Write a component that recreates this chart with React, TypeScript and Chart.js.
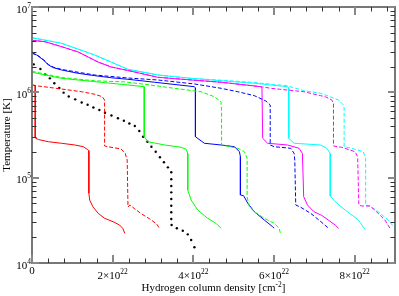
import { useEffect, useRef } from 'react';
import { Chart, registerables } from 'chart.js';

Chart.register(...registerables);

// x: hydrogen column density in units of 1e22 cm^-2 ; y: log10(Temperature [K])
const redSolidX = [0, 0.08, 0.08, 0.16, 0.41, 0.73, 1.06, 1.27, 1.37, 1.41, 1.41, 1.43, 1.51, 1.64, 1.80, 2.01, 2.17, 2.25, 2.30];
const redSolidLogT = [6.086, 6.080, 5.465, 5.447, 5.421, 5.403, 5.383, 5.363, 5.332, 5.316, 4.817, 4.738, 4.660, 4.582, 4.524, 4.484, 4.445, 4.407, 4.348];

const redDashedX = [0, 0.16, 0.73, 1.23, 1.56, 1.74, 1.80, 1.80, 1.88, 2.21, 2.31, 2.36, 2.38, 2.43, 2.55, 2.72, 2.92, 3.09, 3.17];
const redDashedLogT = [6.086, 6.074, 6.039, 6.007, 5.977, 5.949, 5.910, 5.371, 5.363, 5.336, 5.285, 5.207, 4.656, 4.680, 4.633, 4.574, 4.516, 4.457, 4.398];

const greenSolidX = [0, 0.734, 1.557, 2.377, 2.783, 2.783, 2.877, 3.288, 3.700, 3.823, 3.862, 3.862, 3.946, 4.108, 4.355, 4.562, 4.685];
const greenSolidLogT = [6.235, 6.164, 6.125, 6.086, 6.066, 5.480, 5.421, 5.383, 5.356, 5.332, 5.285, 4.855, 4.738, 4.621, 4.524, 4.465, 4.407];

const greenDashedX = [0, 0.734, 1.557, 2.303, 2.796, 3.534, 4.192, 4.520, 4.685, 4.700, 4.700, 5.103, 5.266, 5.333, 5.333, 5.389, 5.512, 5.759, 6.005, 6.128, 6.170];
const greenDashedLogT = [6.246, 6.174, 6.135, 6.122, 6.094, 6.047, 6.007, 5.949, 5.890, 5.793, 5.383, 5.344, 5.304, 5.227, 4.777, 4.660, 4.601, 4.524, 4.465, 4.407, 4.328];

const blueSolidX = [0, 0.118, 0.283, 0.406, 0.530, 0.734, 1.145, 1.557, 1.966, 2.377, 3.042, 4.027, 4.052, 4.052, 4.273, 4.685, 5.020, 5.143, 5.167, 5.167, 5.246, 5.350, 5.512, 5.759, 5.966, 6.005];
const blueSolidLogT = [6.457, 6.437, 6.379, 6.320, 6.289, 6.262, 6.223, 6.195, 6.171, 6.153, 6.118, 6.066, 6.051, 5.480, 5.403, 5.383, 5.363, 5.304, 5.246, 4.797, 4.789, 4.700, 4.601, 4.504, 4.425, 4.407];

const blueDashedX = [0, 0.118, 0.283, 0.406, 0.530, 0.734, 1.557, 2.377, 3.116, 4.027, 4.692, 5.103, 5.512, 5.800, 5.906, 5.906, 6.005, 6.416, 6.498, 6.515, 6.539, 6.663, 6.909, 7.113, 7.352];
const blueDashedLogT = [6.461, 6.441, 6.385, 6.326, 6.295, 6.268, 6.203, 6.168, 6.145, 6.098, 6.047, 6.007, 5.961, 5.898, 5.852, 5.383, 5.363, 5.344, 5.285, 5.207, 4.680, 4.653, 4.582, 4.504, 4.407];

const magentaSolidX = [0, 0.325, 0.734, 1.145, 1.392, 1.638, 1.966, 2.377, 3.123, 3.946, 4.692, 5.677, 5.702, 5.719, 5.842, 6.335, 6.621, 6.704, 6.736, 6.828, 6.990, 7.187, 7.517, 7.599];
const magentaSolidLogT = [6.610, 6.593, 6.535, 6.473, 6.414, 6.355, 6.297, 6.256, 6.176, 6.145, 6.118, 6.066, 6.051, 5.461, 5.403, 5.383, 5.344, 5.285, 4.777, 4.680, 4.601, 4.557, 4.445, 4.407];

const magentaDashedX = [0, 0.325, 0.734, 1.145, 1.392, 1.638, 1.966, 2.377, 3.123, 3.946, 4.692, 5.677, 5.924, 6.744, 7.155, 7.271, 7.433, 7.475, 7.475, 7.680, 8.010, 8.074, 8.103, 8.172, 8.379, 8.542, 8.749, 8.872];
const magentaDashedLogT = [6.610, 6.593, 6.535, 6.473, 6.414, 6.355, 6.297, 6.256, 6.176, 6.145, 6.118, 6.066, 6.047, 6.007, 5.961, 5.949, 5.910, 5.871, 5.371, 5.356, 5.304, 5.246, 4.680, 4.668, 4.668, 4.601, 4.504, 4.410];

const cyanSolidX = [0, 0.734, 1.557, 1.958, 2.377, 3.123, 3.946, 4.766, 5.512, 6.335, 6.360, 6.367, 6.498, 7.155, 7.310, 7.394, 7.394, 7.517, 7.764, 8.091, 8.256];
const cyanSolidLogT = [6.640, 6.575, 6.437, 6.355, 6.270, 6.203, 6.164, 6.133, 6.106, 6.066, 6.057, 5.461, 5.403, 5.383, 5.344, 5.285, 4.785, 4.718, 4.621, 4.504, 4.395];

const cyanDashedX = [0, 0.734, 1.557, 1.958, 2.377, 3.123, 3.946, 4.766, 5.512, 6.335, 6.736, 7.155, 7.271, 7.599, 7.722, 7.739, 7.739, 7.926, 8.214, 8.271, 8.271, 8.379, 8.584, 8.830, 9.0];
const cyanDashedLogT = [6.640, 6.575, 6.437, 6.355, 6.270, 6.203, 6.164, 6.140, 6.115, 6.076, 6.020, 5.989, 5.969, 5.910, 5.852, 5.816, 5.363, 5.344, 5.304, 5.227, 4.680, 4.668, 4.601, 4.504, 4.407];

const blackDotsX = [0.044, 0.209, 0.325, 0.443, 0.554, 0.677, 0.783, 0.911, 1.071, 1.232, 1.379, 1.522, 1.670, 1.810, 1.970, 2.131, 2.278, 2.414, 2.549, 2.660, 2.754, 2.862, 2.961, 3.067, 3.172, 3.271, 3.369, 3.453, 3.453, 3.453, 3.453, 3.453, 3.453, 3.453, 3.453, 3.461, 3.591, 3.739, 3.862, 3.946, 4.027];
const blackDotsLogT = [6.328, 6.273, 6.211, 6.164, 6.106, 6.051, 5.996, 5.951, 5.918, 5.881, 5.854, 5.822, 5.793, 5.761, 5.728, 5.696, 5.667, 5.635, 5.605, 5.547, 5.480, 5.421, 5.363, 5.304, 5.239, 5.180, 5.121, 5.063, 4.981, 4.902, 4.828, 4.750, 4.671, 4.594, 4.516, 4.445, 4.407, 4.378, 4.336, 4.269, 4.184];

// axes
const xMin = 0;
const xMax = 9;
const yMin = 1e4;
const yMax = 1e7;
const xMajorTicks = [0, 2, 4, 6, 8];
const xMinorStep = 0.4;
const xTickBases = ['0', '2×10', '4×10', '6×10', '8×10'];
const xTickExps = ['', '22', '22', '22', '22'];
const yMajorTicks = [1e4, 1e5, 1e6, 1e7];
const yTickBases = ['10', '10', '10', '10'];
const yTickExps = ['4', '5', '6', '7'];
const xTitleBase = 'Hydrogen column density [cm';
const xTitleExp = '-2';
const xTitleEnd = ']';
const yTitle = 'Temperature [K]';

const FONT_FAMILY = '"Liberation Serif", "DejaVu Serif", serif';
const BASE_FONT = `11px ${FONT_FAMILY}`;
const SUP_FONT = `7.5px ${FONT_FAMILY}`;

function pts(xs: number[], logT: number[]) {
  return xs.map((x, i) => ({ x, y: Math.pow(10, logT[i]) }));
}

function lineDs(label: string, xs: number[], ys: number[], color: string, dashed: boolean) {
  return {
    label,
    data: pts(xs, ys),
    showLine: true,
    borderColor: color,
    backgroundColor: color,
    borderWidth: 1,
    borderDash: dashed ? [4, 2] : [],
    pointRadius: 0,
    tension: 0,
    fill: false,
  };
}

const axesPlugin = {
  id: 'graceAxes',
  afterDraw(chart: any) {
    const ctx: CanvasRenderingContext2D = chart.ctx;
    const { left, right, top, bottom } = chart.chartArea;
    const xs = chart.scales.x;
    const ys = chart.scales.y;
    ctx.save();
    // frame
    ctx.strokeStyle = '#777';
    ctx.lineWidth = 2;
    ctx.strokeRect(left, top, right - left, bottom - top);

    const line = (x1: number, y1: number, x2: number, y2: number) => {
      ctx.beginPath();
      ctx.moveTo(x1, y1);
      ctx.lineTo(x2, y2);
      ctx.stroke();
    };
    // x minor ticks
    ctx.strokeStyle = '#333';
    ctx.lineWidth = 1;
    for (let v = xMinorStep; v < xMax; v += xMinorStep) {
      const r = Math.round(v * 10) / 10;
      if (xMajorTicks.some((m) => Math.abs(m - r) < 1e-6)) continue;
      const px = Math.round(xs.getPixelForValue(r)) + 0.5;
      line(px, bottom, px, bottom - 4.5);
      line(px, top, px, top + 4.5);
    }
    // y minor ticks
    for (let d = 4; d < 7; d++) {
      for (let m = 2; m <= 9; m++) {
        const v = m * Math.pow(10, d);
        const py = Math.round(ys.getPixelForValue(v)) + 0.5;
        line(left, py, left + 4.5, py);
        line(right, py, right - 4.5, py);
      }
    }
    // major ticks
    ctx.strokeStyle = '#888';
    ctx.lineWidth = 2;
    xMajorTicks.forEach((v) => {
      const px = Math.round(xs.getPixelForValue(v));
      line(px, bottom, px, bottom - 8);
      line(px, top, px, top + 8);
    });
    yMajorTicks.forEach((v) => {
      const py = Math.round(ys.getPixelForValue(v));
      line(left, py, left + 7, py);
      line(right, py, right - 7, py);
    });

    // tick labels
    ctx.fillStyle = '#000';
    ctx.textBaseline = 'alphabetic';
    ctx.textAlign = 'left';
    const widths = (b: string, e: string) => {
      ctx.font = BASE_FONT;
      const wb = ctx.measureText(b).width;
      ctx.font = SUP_FONT;
      const we = e ? ctx.measureText(e).width : 0;
      return [wb, we];
    };
    xMajorTicks.forEach((v, i) => {
      const px = xs.getPixelForValue(v);
      const b = xTickBases[i];
      const e = xTickExps[i];
      const [wb, we] = widths(b, e);
      const x0 = px - (wb + we) / 2;
      ctx.font = BASE_FONT;
      if (e) {
        ctx.fillText(b, x0, bottom + 16);
        ctx.font = SUP_FONT;
        ctx.fillText(e, x0 + wb, bottom + 10.5);
      } else {
        ctx.fillText(b, x0, bottom + 11);
      }
    });
    yMajorTicks.forEach((v, i) => {
      const py = ys.getPixelForValue(v);
      const b = yTickBases[i];
      const e = yTickExps[i];
      const [wb, we] = widths(b, e);
      const x0 = left - 1 - (wb + we);
      ctx.font = BASE_FONT;
      ctx.fillText(b, x0, py + 5.5);
      ctx.font = SUP_FONT;
      ctx.fillText(e, x0 + wb, py + 0.5);
    });

    // x title
    ctx.font = BASE_FONT;
    const w1 = ctx.measureText(xTitleBase).width;
    const w3 = ctx.measureText(xTitleEnd).width;
    ctx.font = SUP_FONT;
    const w2 = ctx.measureText(xTitleExp).width;
    const cx = (left + right) / 2;
    let tx = cx - (w1 + w2 + w3) / 2;
    ctx.font = BASE_FONT;
    ctx.fillText(xTitleBase, tx, 291);
    tx += w1;
    ctx.font = SUP_FONT;
    ctx.fillText(xTitleExp, tx, 286.5);
    tx += w2;
    ctx.font = BASE_FONT;
    ctx.fillText(xTitleEnd, tx, 291);

    // y title
    ctx.save();
    ctx.translate(9.5, (top + bottom) / 2);
    ctx.rotate(-Math.PI / 2);
    ctx.textAlign = 'center';
    ctx.font = BASE_FONT;
    ctx.fillText(yTitle, 0, 0);
    ctx.restore();

    ctx.restore();
  },
};

export default function App() {
  const ref = useRef<HTMLCanvasElement>(null);
  useEffect(() => {
    document.body.style.margin = '0';
    const canvas = ref.current;
    if (!canvas) return;
    const datasets: any[] = [
      lineDs('red solid', redSolidX, redSolidLogT, '#ff0000', false),
      lineDs('red dashed', redDashedX, redDashedLogT, '#ff0000', true),
      lineDs('green solid', greenSolidX, greenSolidLogT, '#00ff00', false),
      lineDs('green dashed', greenDashedX, greenDashedLogT, '#00ff00', true),
      lineDs('blue dashed', blueDashedX, blueDashedLogT, '#0000ff', true),
      lineDs('blue solid', blueSolidX, blueSolidLogT, '#0000ff', false),
      lineDs('magenta dashed', magentaDashedX, magentaDashedLogT, '#ff00ff', true),
      lineDs('magenta solid', magentaSolidX, magentaSolidLogT, '#ff00ff', false),
      lineDs('cyan dashed', cyanDashedX, cyanDashedLogT, '#00ffff', true),
      lineDs('cyan solid', cyanSolidX, cyanSolidLogT, '#00ffff', false),
      {
        label: 'black dotted',
        data: pts(blackDotsX, blackDotsLogT),
        showLine: false,
        pointRadius: 1.2,
        pointBorderWidth: 0,
        pointBackgroundColor: '#000',
        pointBorderColor: '#000',
      },
    ];
    const chart = new Chart(canvas, {
      type: 'scatter',
      data: { datasets },
      options: {
        animation: false,
        responsive: false,
        devicePixelRatio: 1,
        layout: { padding: { left: 32, right: 2, top: 7, bottom: 33 } },
        plugins: { legend: { display: false }, tooltip: { enabled: false } },
        scales: {
          x: { type: 'linear', min: xMin, max: xMax, display: false },
          y: { type: 'logarithmic', min: yMin, max: yMax, display: false },
        },
      },
      plugins: [axesPlugin],
    } as any);
    return () => chart.destroy();
  }, []);
  return (
    <div style={{ width: 399, height: 296, background: '#fff' }}>
      <canvas ref={ref} width={399} height={296} style={{ display: 'block' }} />
    </div>
  );
}
